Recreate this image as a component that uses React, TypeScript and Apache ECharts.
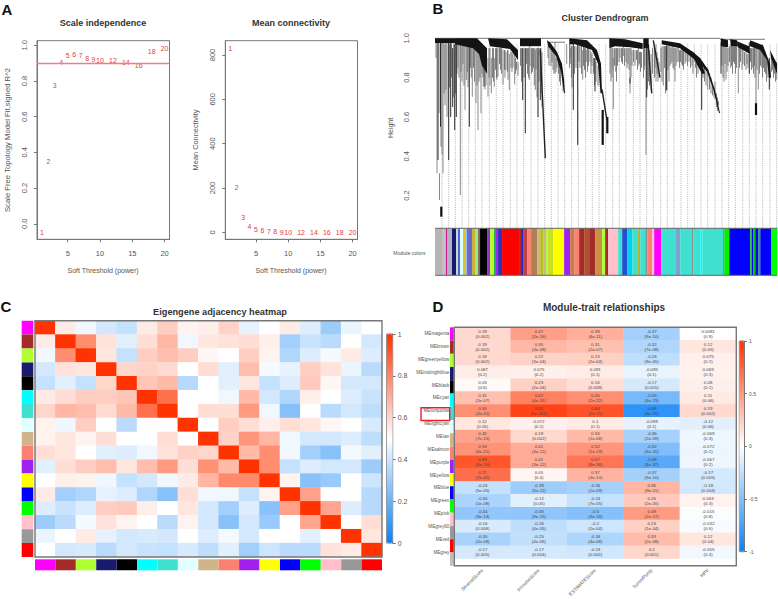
import React, { useEffect, useRef } from "react";
import * as echarts from "echarts";

const FONT = "Liberation Sans";
const GREY_TEXT = "#555";
const BOX = "#777";
const RED_PT = "#e23b3b";

// ---------- Panel A
const powers = [1, 2, 3, 4, 5, 6, 7, 8, 9, 10, 12, 14, 16, 18, 20];
const scaleFit = [-0.048, 0.35, 0.773, 0.906, 0.943, 0.95, 0.942, 0.925, 0.923, 0.914, 0.914, 0.905, 0.888, 0.968, 0.983];
const meanConn = [830, 203, 66, 25, 13, 6, 4, 2, 1, 1, 1, 1, 1, 1, 1];
const fitTicks = [0, 0.2, 0.4, 0.6, 0.8, 1.0];
const connTicks = [0, 200, 400, 600, 800];
const powerTicks = [5, 10, 15, 20];
const fitCutoff = 0.9;

// ---------- Panel B (x = leaf position along the tree, y = height)
const heightTicks = [0.2, 0.4, 0.6, 0.8, 1.0];
const guideXs = [7, 13.7, 20.3, 27, 33.7, 40.3, 47, 54.3, 61.3, 68, 75.3, 82, 88.7, 96, 103, 109.7, 116.3, 123, 129.7, 136.7, 143.3, 150.7, 157.3, 164, 170.7, 177.7, 184.3, 191, 198.3, 205, 211.7, 218.3, 225.7, 232.3, 239, 246, 252.7, 259.3, 266, 272.7, 280, 287, 293.7, 300.3, 307.7, 314.3, 321, 327.7, 335, 341.7];
const greySpikes = [
  [2, 0.98, 0.314], [4.5, 0.314, 0.178], [7, 0.98, 0.41], [8, 0.98, 0.314], [11, 0.98, 0.737], [23, 0.98, 0.847], [25.3, 0.98, 0.203], [27, 0.96, 0.78], [30, 0.96, 0.636], [31.3, 0.96, 0.788], [37.3, 0.98, 0.703], [41, 0.97, 0.67], [43, 0.97, 0.534], [46, 0.96, 0.619], [53, 0.9, 0.703], [56.3, 0.9, 0.72], [59.3, 0.9, 0.754], [63, 0.95, 0.805], [68, 0.94, 0.765], [71, 0.93, 0.839], [74.3, 0.92, 0.737], [79.7, 0.92, 0.765], [94.3, 0.96, 0.788], [100.3, 0.94, 0.737],
  [120, 0.98, 0.82], [131.7, 0.97, 0.87], [135.7, 0.95, 0.87], [147.7, 0.94, 0.79], [151.7, 0.94, 0.88], [178, 0.95, 0.84], [178.3, 0.9, 0.64], [180.7, 0.95, 0.83], [188.3, 0.96, 0.91], [195, 0.95, 0.72], [203.3, 0.95, 0.86], [211, 0.97, 0.407], [209.3, 0.98, 0.84], [221, 0.97, 0.78],
  [228.3, 0.96, 0.76], [231.7, 0.97, 0.74], [236, 0.95, 0.87], [240, 0.95, 0.78], [243.3, 0.95, 0.88], [246.7, 0.95, 0.87], [250, 0.94, 0.87], [259.3, 0.93, 0.88], [272.7, 0.85, 0.74], [280, 0.78, 0.69], [291, 0.97, 0.79], [295.7, 0.97, 0.85], [303.3, 0.97, 0.72], [317.7, 0.95, 0.85], [321, 0.97, 0.61], [323.3, 0.95, 0.74], [326.7, 0.95, 0.85], [341.7, 0.88, 0.79],
];
const fringeSpikes = [
  [1, 0.97, 0.9], [4, 0.97, 0.62], [6, 0.97, 0.45], [9, 0.97, 0.72], [10, 0.97, 0.66], [12, 0.97, 0.6], [14.5, 0.97, 0.75], [16.5, 0.97, 0.8], [18.7, 0.97, 0.7], [20.5, 0.97, 0.72], [22, 0.97, 0.82],
  [24, 0.97, 0.8], [26, 0.97, 0.83], [28, 0.97, 0.87], [29, 0.97, 0.76], [32.3, 0.97, 0.83], [33, 0.97, 0.75], [35.5, 0.97, 0.85], [36.3, 0.97, 0.8], [38.5, 0.95, 0.85], [39.5, 0.95, 0.78], [42, 0.95, 0.76], [44, 0.93, 0.78], [45, 0.92, 0.8], [47, 0.9, 0.82], [48, 0.88, 0.8], [50, 0.88, 0.74], [51, 0.85, 0.76],
  [54, 0.95, 0.8], [55, 0.95, 0.76], [57.5, 0.95, 0.8], [58.5, 0.95, 0.78], [60.5, 0.95, 0.84], [61.5, 0.95, 0.8], [62, 0.95, 0.79], [64.5, 0.95, 0.87], [65.5, 0.95, 0.84], [66.5, 0.95, 0.82], [69.5, 0.94, 0.84], [70, 0.94, 0.8], [72.5, 0.94, 0.83], [73, 0.94, 0.79], [76, 0.93, 0.85], [77, 0.93, 0.83], [78, 0.92, 0.85], [80.5, 0.9, 0.82], [81.5, 0.88, 0.84], [83, 0.88, 0.81],
  [85.5, 0.95, 0.86], [86.5, 0.95, 0.78], [89, 0.95, 0.8], [91.5, 0.95, 0.87], [92.5, 0.95, 0.82], [93.5, 0.95, 0.8], [95, 0.95, 0.86], [96.5, 0.95, 0.82], [97.5, 0.95, 0.83], [98.5, 0.95, 0.85], [99.3, 0.95, 0.76], [101, 0.95, 0.84], [102, 0.95, 0.7], [104, 0.95, 0.78], [106, 0.95, 0.72], [107, 0.93, 0.65],
  [113, 0.96, 0.9], [114, 0.96, 0.86], [116, 0.95, 0.86], [117, 0.95, 0.88], [118, 0.94, 0.84], [119, 0.93, 0.82], [121, 0.9, 0.83], [122, 0.9, 0.85], [123.5, 0.88, 0.82], [124.5, 0.87, 0.78], [125.5, 0.85, 0.76], [128, 0.8, 0.73],
  [134.5, 0.97, 0.85], [135, 0.97, 0.9], [136.5, 0.96, 0.8], [137, 0.96, 0.75], [139.5, 0.96, 0.82], [141, 0.96, 0.85], [144, 0.96, 0.88], [145, 0.96, 0.85], [146.5, 0.96, 0.82], [148.5, 0.96, 0.86], [149.5, 0.95, 0.84], [150.5, 0.95, 0.8], [152.5, 0.95, 0.83], [153.5, 0.95, 0.86], [155, 0.94, 0.88], [156, 0.93, 0.82], [157, 0.92, 0.86], [158.5, 0.9, 0.82], [159.5, 0.9, 0.76], [161, 0.88, 0.78], [163, 0.86, 0.76],
  [175, 0.95, 0.82], [176, 0.95, 0.78], [177, 0.95, 0.8], [179.5, 0.95, 0.86], [181.5, 0.95, 0.78], [182.5, 0.95, 0.86], [184, 0.95, 0.88], [185, 0.95, 0.9], [186.5, 0.95, 0.88], [187.5, 0.95, 0.87], [189.5, 0.95, 0.86], [191, 0.95, 0.88], [192, 0.95, 0.85], [193, 0.95, 0.87], [194, 0.95, 0.84], [196, 0.95, 0.8], [197, 0.94, 0.86], [198.5, 0.94, 0.88], [200, 0.94, 0.86], [201.5, 0.94, 0.89], [202.5, 0.94, 0.84], [204.5, 0.93, 0.87], [205.5, 0.93, 0.83], [206.5, 0.93, 0.85],
  [208.5, 0.95, 0.8], [209.8, 0.95, 0.86], [212.5, 0.95, 0.74], [213.5, 0.95, 0.78], [214.5, 0.94, 0.76], [216, 0.92, 0.74], [217.5, 0.95, 0.82], [219.5, 0.95, 0.8], [220, 0.95, 0.85], [222, 0.93, 0.82], [223, 0.9, 0.78], [224, 0.88, 0.8], [226, 0.95, 0.83], [227, 0.96, 0.78], [229.5, 0.96, 0.85], [230.5, 0.96, 0.72], [233, 0.96, 0.84], [234, 0.96, 0.78], [235, 0.96, 0.86],
  [237, 0.96, 0.88], [238, 0.96, 0.85], [239, 0.95, 0.84], [241, 0.95, 0.86], [242, 0.95, 0.88], [244.5, 0.94, 0.85], [245.5, 0.94, 0.88], [247.5, 0.94, 0.86], [248.5, 0.94, 0.84], [251, 0.93, 0.88], [252.5, 0.93, 0.86], [254, 0.92, 0.88], [255.5, 0.91, 0.85], [257, 0.91, 0.86], [258, 0.9, 0.82], [260.5, 0.88, 0.85], [261.5, 0.88, 0.8], [263, 0.88, 0.82], [268, 0.87, 0.8], [269.5, 0.85, 0.78], [271, 0.84, 0.76], [274.5, 0.82, 0.74], [276, 0.8, 0.72], [277.5, 0.77, 0.71], [279, 0.75, 0.7], [281.5, 0.72, 0.65], [282.5, 0.7, 0.63], [283.5, 0.68, 0.66],
  [287, 0.96, 0.86], [288, 0.96, 0.8], [289, 0.96, 0.78], [290, 0.96, 0.87], [292, 0.95, 0.83], [293, 0.95, 0.86], [294.5, 0.96, 0.88], [296.5, 0.96, 0.86], [297.5, 0.96, 0.82], [298.5, 0.96, 0.88], [299.5, 0.96, 0.87], [300.5, 0.96, 0.82], [301.5, 0.96, 0.85], [304.5, 0.95, 0.85], [305.5, 0.95, 0.88], [307, 0.95, 0.84], [308, 0.94, 0.87], [309.5, 0.93, 0.86], [311, 0.93, 0.84], [312, 0.92, 0.87], [313, 0.92, 0.85], [315.5, 0.95, 0.88], [316.5, 0.95, 0.84], [318.5, 0.95, 0.82], [319.5, 0.95, 0.86], [320, 0.95, 0.8], [322, 0.95, 0.84], [324.5, 0.94, 0.82], [325.5, 0.94, 0.86], [327.5, 0.93, 0.8], [328.5, 0.92, 0.85], [329.5, 0.92, 0.83], [330.5, 0.9, 0.82], [331.5, 0.9, 0.78], [333, 0.88, 0.8], [336.5, 0.9, 0.83], [337.5, 0.88, 0.84], [338.5, 0.88, 0.8], [339.5, 0.86, 0.82], [340.5, 0.86, 0.78],
];
const darkSpikes = [
  [3, 0.98, 0.381], [5.5, 0.98, 0.55], [13.7, 0.98, 0.381], [15.7, 0.98, 0.6], [17.7, 0.95, 0.65], [19.7, 0.97, 0.534], [21.3, 0.97, 0.6], [34.3, 0.96, 0.55], [49, 0.9, 0.754], [87.7, 0.95, 0.686], [90.3, 0.95, 0.517], [103, 0.95, 0.6], [105.3, 0.95, 0.686],
  [138.3, 0.98, 0.636], [142.7, 0.97, 0.458], [160, 0.9, 0.73], [195, 0.8, 0.77], [211.7, 0.98, 0.7], [231.7, 0.96, 0.735], [266.7, 0.87, 0.636], [286, 0.98, 0.82], [314.3, 0.98, 0.82], [334.3, 0.9, 0.74],
];
const thickSpikes = [
  [6.3, 0.144, 0.093], [167.7, 0.636, 0.458], [172.3, 0.6, 0.517], [321, 0.67, 0.61],
];
const slantBranches = [
  [105.3, 0.94, 110.3, 0.39], [167, 0.74, 172, 0.58], [213.3, 0.97, 216.7, 0.72], [218.3, 0.99, 225, 0.8],
];
const treeRoofs = [
  [0, 1, 285, 1], [285, 0.995, 330, 0.995], [115, 0.98, 130, 0.98],
];
const blackBands = [
  [[0, 1], [20, 1], [20, 0.975], [0, 0.975]],
  [[20, 1], [42, 1], [52, 0.95], [52, 0.82], [47, 0.86], [44, 0.92], [38, 0.95], [20, 0.97]],
  [[53, 1], [72, 0.995], [83, 0.94], [83, 0.89], [75, 0.945], [55, 0.96]],
  [[85, 1], [106, 1], [106, 0.96], [85, 0.96]],
  [[112, 0.99], [115, 0.98], [122, 0.93], [127, 0.87], [129, 0.79], [130, 0.72], [129, 0.72], [126, 0.83], [121, 0.91], [113, 0.96]],
  [[134.3, 1], [152, 0.99], [162, 0.94], [166, 0.87], [167, 0.72], [165.5, 0.72], [163, 0.87], [157, 0.94], [140, 0.97], [134.3, 0.97]],
  [[174.3, 1], [190, 0.995], [207.7, 0.975], [207.7, 0.945], [195, 0.955], [180, 0.96], [174.3, 0.95]],
  [[208.3, 1], [213.7, 1], [213.7, 0.95], [208.3, 0.95]],
  [[226.7, 0.99], [245, 0.975], [258, 0.93], [265, 0.9], [270, 0.82], [267, 0.82], [259, 0.895], [245, 0.95], [226.7, 0.97]],
  [[265, 0.9], [273.3, 0.84], [280, 0.737], [285, 0.62], [284, 0.62], [278.5, 0.737], [272, 0.83], [264, 0.88]],
  [[285.7, 1], [293, 0.99], [293, 0.955], [286, 0.96]],
  [[295, 0.995], [302, 0.99], [303, 0.96], [296, 0.96]],
  [[302, 0.985], [314, 0.96], [315, 0.92], [303, 0.955]],
  [[315, 0.99], [328, 0.965], [335, 0.87], [336, 0.8], [334, 0.8], [332, 0.89], [325, 0.94], [315, 0.96]],
  [[335, 0.94], [342, 0.87], [342, 0.82], [336, 0.9]],
];
const moduleStripColours = [
  "#b5b5b5", "#c0c0c0", "#c71585", "#b0b0c8", "#191970", "#d3d3d3", "#4169e1", "#e0ffff", "#e6c229", "#99bbff", "#6a6ac8", "#c9b037", "#90ee90", "#8b6a4a", "#000000", "#9b30c8", "#adff2f", "#22aa44", "#a020f0", "#3030c0",
  "#ff0000", "#a52a2a", "#2020d0", "#c04040", "#fa8072", "#b08050", "#d2b48c", "#b8c020", "#d2b48c", "#adff2f", "#c8e020", "#ffff00", "#a020f0", "#c08050", "#fa8072", "#a52a2a", "#b05030", "#a52a2a", "#c89040", "#adff2f", "#a52a2a",
  "#ffc0cb", "#40e0d0", "#2050d0", "#00d0f0", "#40e0d0", "#c0b030", "#40e0d0", "#909090", "#fa8072", "#ffc0cb", "#ff00ff", "#40e0d0", "#80a0d0", "#40e0d0", "#707070", "#40e0d0", "#00ffff", "#40e0d0", "#707070", "#00ee00", "#0000ff", "#00cc00", "#0000ff", "#00cc00", "#0000ff", "#00cc00", "#0000ff", "#00ff00",
];
const moduleStripEnds = [
  7, 11, 12, 17, 21, 23, 25, 28, 30, 32, 37, 40, 43, 45, 52, 55, 59, 61, 63, 67,
  84, 86, 88, 92, 96, 102, 105, 108, 111, 113, 118, 129, 135, 139, 144, 149, 154, 160, 167, 170, 173,
  183, 187, 192, 197, 202, 205, 210, 212, 217, 219, 226, 240, 245, 257, 258, 265, 267, 288, 289, 294, 315, 316.7, 318.3, 320, 323.3, 325, 335.7, 342,
];

// ---------- Panel C
const moduleColours = ["#ff00ff", "#a52a2a", "#adff2f", "#191970", "#000000", "#00ffff", "#40e0d0", "#e0ffff", "#d2b48c", "#fa8072", "#a020f0", "#ffff00", "#0000ff", "#00ff00", "#ffc0cb", "#999999", "#ff0000"];
const adjacencyRows = [
  [1, 0.55, 0.47, 0.41, 0.38, 0.55, 0.62, 0.53, 0.54, 0.61, 0.45, 0.5, 0.55, 0.43, 0.3, 0.46, 0.5],
  [0.55, 1, 0.78, 0.57, 0.44, 0.58, 0.68, 0.47, 0.56, 0.57, 0.58, 0.54, 0.31, 0.39, 0.36, 0.5, 0.41],
  [0.47, 0.78, 1, 0.56, 0.38, 0.62, 0.66, 0.62, 0.52, 0.5, 0.62, 0.53, 0.34, 0.43, 0.48, 0.55, 0.43],
  [0.41, 0.57, 0.56, 1, 0.6, 0.61, 0.59, 0.5, 0.58, 0.44, 0.66, 0.48, 0.45, 0.62, 0.57, 0.46, 0.36],
  [0.38, 0.44, 0.38, 0.6, 1, 0.64, 0.67, 0.35, 0.5, 0.44, 0.56, 0.38, 0.43, 0.63, 0.52, 0.41, 0.41],
  [0.55, 0.58, 0.62, 0.62, 0.64, 1, 0.85, 0.5, 0.5, 0.47, 0.67, 0.41, 0.34, 0.54, 0.5, 0.43, 0.39],
  [0.6, 0.68, 0.66, 0.59, 0.67, 0.85, 1, 0.5, 0.58, 0.58, 0.75, 0.47, 0.25, 0.5, 0.36, 0.41, 0.37],
  [0.53, 0.47, 0.62, 0.5, 0.36, 0.5, 0.5, 1, 0.5, 0.62, 0.58, 0.54, 0.58, 0.56, 0.52, 0.5, 0.42],
  [0.53, 0.56, 0.53, 0.58, 0.5, 0.5, 0.58, 0.5, 1, 0.61, 0.76, 0.68, 0.47, 0.41, 0.41, 0.43, 0.37],
  [0.58, 0.56, 0.5, 0.44, 0.43, 0.47, 0.57, 0.61, 0.6, 1, 0.67, 0.78, 0.47, 0.31, 0.26, 0.48, 0.44],
  [0.44, 0.58, 0.62, 0.66, 0.56, 0.66, 0.75, 0.58, 0.77, 0.67, 1, 0.78, 0.38, 0.43, 0.41, 0.41, 0.3],
  [0.5, 0.54, 0.53, 0.47, 0.38, 0.41, 0.47, 0.55, 0.68, 0.79, 0.79, 1, 0.53, 0.26, 0.29, 0.5, 0.4],
  [0.55, 0.31, 0.34, 0.45, 0.43, 0.34, 0.26, 0.58, 0.47, 0.47, 0.38, 0.53, 1, 0.73, 0.5, 0.5, 0.35],
  [0.43, 0.39, 0.43, 0.62, 0.63, 0.54, 0.5, 0.56, 0.41, 0.31, 0.43, 0.26, 0.73, 1, 0.72, 0.43, 0.35],
  [0.3, 0.36, 0.48, 0.57, 0.53, 0.5, 0.36, 0.53, 0.41, 0.26, 0.41, 0.29, 0.5, 0.72, 1, 0.5, 0.58],
  [0.46, 0.5, 0.55, 0.45, 0.41, 0.42, 0.41, 0.5, 0.43, 0.48, 0.41, 0.5, 0.5, 0.44, 0.5, 1, 0.56],
  [0.5, 0.41, 0.42, 0.36, 0.41, 0.39, 0.38, 0.42, 0.37, 0.44, 0.31, 0.4, 0.36, 0.36, 0.57, 0.55, 1],
];
const adjTicks = [0, 0.2, 0.4, 0.6, 0.8, 1];

// ---------- Panel D
const traitNames = ["StromalScore", "ImmuneScore", "ESTIMATEScore", "TumorPurity", "HPV"];
const moduleEigengenes = ["MEmagenta", "MEbrown", "MEgreenyellow", "MEmidnightblue", "MEblack", "MEcyan", "MEturquoise", "MElightcyan", "MEtan", "MEsalmon", "MEpurple", "MEyellow", "MEblue", "MEgreen", "MEpink", "MEgrey60", "MEred", "MEgrey"];
const eigengeneColours = ["#ff00ff", "#a52a2a", "#adff2f", "#191970", "#000000", "#00ffff", "#40e0d0", "#e0ffff", "#d2b48c", "#fa8072", "#a020f0", "#ffff00", "#0000ff", "#00ff00", "#ffc0cb", "#999999", "#ff0000", "#bebebe"];
const traitCorr = [
  [0.19, 0.47, 0.39, -0.37, 0.0081],
  [0.19, 0.35, 0.31, -0.32, 0.12],
  [0.19, 0.22, 0.23, -0.26, 0.075],
  [0.087, 0.075, 0.091, -0.095, 0.069],
  [0.03, 0.23, 0.16, -0.17, 0.08],
  [0.31, 0.62, 0.55, -0.55, 0.11],
  [0.55, 0.91, 0.84, -0.85, 0.19],
  [0.12, 0.072, 0.1, -0.099, -0.12],
  [0.45, 0.19, 0.34, -0.36, -0.069],
  [0.53, 0.41, 0.52, -0.52, -0.072],
  [0.83, 0.41, 0.67, -0.68, -0.067],
  [0.71, 0.05, 0.37, -0.37, -0.17],
  [-0.24, -0.39, -0.36, 0.36, -0.18],
  [-0.34, -0.12, -0.24, 0.26, 0.063],
  [-0.44, -0.45, -0.5, 0.49, -0.015],
  [-0.16, -0.26, -0.2, 0.23, -0.032],
  [-0.35, -0.25, -0.33, 0.33, 0.12],
  [-0.17, -0.17, -0.19, 0.2, -0.055],
];
const traitPval = [
  ["0.002", "2e-16", "4e-11", "5e-10", "0.9"],
  ["0.002", "3e-09", "2e-07", "7e-08", "0.05"],
  ["0.002", "3e-04", "2e-04", "9e-05", "0.2"],
  ["0.2", "0.2", "0.1", "0.1", "0.3"],
  ["0.6", "2e-04", "0.009", "0.005", "0.2"],
  ["2e-07", "4e-31", "2e-22", "4e-23", "0.06"],
  ["2e-22", "1e-101", "2e-71", "3e-75", "0.002"],
  ["0.05", "0.2", "0.1", "0.1", "0.06"],
  ["7e-15", "0.002", "1e-08", "2e-09", "0.3"],
  ["4e-21", "3e-12", "1e-19", "5e-20", "0.2"],
  ["4e-70", "3e-12", "8e-36", "4e-37", "0.2"],
  ["7e-42", "0.4", "3e-10", "5e-10", "0.005"],
  ["5e-05", "5e-11", "1e-09", "9e-11", "0.004"],
  ["1e-08", "0.05", "7e-05", "2e-05", "0.3"],
  ["3e-14", "9e-15", "3e-18", "2e-17", "0.8"],
  ["0.008", "4e-05", "1e-04", "1e-04", "0.6"],
  ["2e-09", "4e-05", "4e-08", "2e-08", "0.04"],
  ["0.005", "0.004", "0.002", "0.001", "0.4"],
];
const corrTicks = [-1, -0.5, 0, 0.5, 1];
const HEAT = ["#0a80f5", "#ffffff", "#ff3300"];

function buildOption() {
  const grid: any[] = [];
  const xAxis: any[] = [];
  const yAxis: any[] = [];
  const series: any[] = [];
  const hidden = { show: false };
  const lineOf = (color = BOX) => ({ show: true, onZero: false, lineStyle: { color, width: 1 } });
  const fixed1 = (v: number) => v.toFixed(1);

  const valAxis = (extra: any, ticks: number[], rotate = 0, fontSize = 7, margin = 6, formatter: any = (v: number) => String(v)) => ({
    type: "value",
    splitLine: hidden,
    scale: false,
    axisLine: lineOf(),
    axisTick: { show: true, length: 3, lineStyle: { color: BOX }, customValues: ticks },
    axisLabel: { show: true, customValues: ticks, rotate, fontSize, fontFamily: FONT, color: GREY_TEXT, margin, formatter },
    ...extra,
  });

  const addGrid = (box: number[], x: any, y: any, border = false) => {
    grid.push({ left: box[0], top: box[1], width: box[2] - box[0], height: box[3] - box[1], show: border, borderColor: BOX, borderWidth: 1, backgroundColor: "transparent", containLabel: false });
    const i = grid.length - 1;
    xAxis.push({ gridIndex: i, ...x });
    yAxis.push({ gridIndex: i, ...y });
    return i;
  };

  const pointLabels = (gi: number, ys: number[]) => ({
    type: "custom",
    xAxisIndex: gi,
    yAxisIndex: gi,
    silent: true,
    data: powers.map((p, i) => [p, ys[i]]),
    renderItem: (_: any, api: any) => {
      const c = api.coord([api.value(0), api.value(1)]);
      return { type: "text", style: { text: String(api.value(0)), x: c[0], y: c[1], fill: RED_PT, fontSize: 7, fontFamily: FONT, align: "center", verticalAlign: "middle" } };
    },
  });

  // A1
  const a1 = addGrid([37, 40.7, 169.5, 239.3], valAxis({ min: 0.24, max: 20.76 }, powerTicks, 0, 7.5, 10), valAxis({ min: -0.087, max: 1.026 }, fitTicks, 90, 7.5, 9, fixed1), true);
  series.push({
    ...pointLabels(a1, scaleFit),
    markLine: { silent: true, symbol: "none", label: { show: false }, lineStyle: { color: "#ee7f7f", width: 1.3, type: "solid" }, data: [{ yAxis: fitCutoff }] },
  });
  // A2
  const a2 = addGrid([225.3, 40.7, 357.5, 239.3], valAxis({ min: 0.24, max: 20.76 }, powerTicks, 0, 7.5, 10), valAxis({ min: -31.6, max: 864.6 }, connTicks, 90, 7.5, 9), true);
  series.push(pointLabels(a2, meanConn));

  // B dendrogram
  const b = addGrid([435, 38.3, 777, 228.3], { type: "value", min: 0, max: 342, show: false, splitLine: hidden },
    { type: "value", min: 0.034, max: 1, splitLine: hidden, axisLine: hidden, axisTick: { show: true, length: 0, customValues: heightTicks, lineStyle: { color: "#fff" } }, axisLabel: { show: true, customValues: heightTicks, rotate: 90, fontSize: 7.5, fontFamily: FONT, color: GREY_TEXT, margin: 25, formatter: fixed1 } });
  const segSeries = (data: number[][], stroke: string, lineWidth: number, dash?: number[]) => ({
    type: "custom",
    xAxisIndex: b,
    yAxisIndex: b,
    silent: true,
    clip: false,
    data,
    renderItem: (_: any, api: any) => {
      const p = api.coord([api.value(0), api.value(1)]);
      const q = api.coord([api.value(2), api.value(3)]);
      return { type: "line", shape: { x1: p[0], y1: p[1], x2: q[0], y2: q[1] }, style: { stroke, lineWidth, lineDash: dash, fill: null } };
    },
  });
  const vert = (rows: number[][]) => rows.map((r) => [r[0], r[1], r[0], r[2]]);
  series.push(segSeries(guideXs.map((x) => [x, 0.97, x, 0.034]), "#a8a8a8", 0.9, [1, 1.2]));
  series.push(segSeries(vert(greySpikes), "#8a8a8a", 1));
  series.push(segSeries(vert(fringeSpikes), "#6a6a6a", 0.85));
  series.push(segSeries(vert(darkSpikes), "#2a2a2a", 1));
  series.push(segSeries(vert(thickSpikes), "#111", 2.2));
  series.push(segSeries(slantBranches, "#222", 1.4));
  series.push(segSeries(treeRoofs, "#777", 1));
  series.push({
    type: "custom",
    xAxisIndex: b,
    yAxisIndex: b,
    silent: true,
    clip: false,
    data: blackBands.map((_, i) => [i, i]),
    renderItem: (params: any, api: any) => ({
      type: "polygon",
      shape: { points: blackBands[params.dataIndex].map((pt) => api.coord(pt)) },
      style: { fill: "#141414" },
    }),
  });

  const stripAxisX = (max: number) => ({ type: "value", min: 0, max, show: false, splitLine: hidden });
  const hStrip = (box: number[], colours: string[], ends: number[], max: number) => {
    const gi = addGrid(box, stripAxisX(max), { type: "value", min: 0, max: 1, show: false, splitLine: hidden });
    series.push({
      type: "custom", xAxisIndex: gi, yAxisIndex: gi, silent: true,
      data: ends.map((e, i) => [i === 0 ? 0 : ends[i - 1], e]),
      renderItem: (params: any, api: any) => {
        const p = api.coord([api.value(0), 1]);
        const q = api.coord([api.value(1), 0]);
        return { type: "rect", shape: { x: p[0], y: p[1], width: q[0] - p[0], height: q[1] - p[1] }, style: { fill: colours[params.dataIndex] } };
      },
    });
  };
  const vStrip = (box: number[], colours: string[]) => {
    const gi = addGrid(box, { type: "value", min: 0, max: 1, show: false, splitLine: hidden }, { type: "value", min: 0, max: colours.length, inverse: true, show: false, splitLine: hidden });
    series.push({
      type: "custom", xAxisIndex: gi, yAxisIndex: gi, silent: true,
      data: colours.map((_, i) => [i, i + 1]),
      renderItem: (params: any, api: any) => {
        const p = api.coord([0, api.value(0)]);
        const q = api.coord([1, api.value(1)]);
        return { type: "rect", shape: { x: p[0], y: p[1], width: q[0] - p[0], height: q[1] - p[1] }, style: { fill: colours[params.dataIndex] } };
      },
    });
  };
  hStrip([435, 228.3, 777.3, 275.3], moduleStripColours, moduleStripEnds, 342);

  // C heatmap
  const idx = moduleColours.map((_, i) => String(i));
  const c = addGrid([35, 320.7, 382, 557], { type: "category", data: idx, show: false }, { type: "category", data: idx, inverse: true, show: false });
  const cSeries = series.length;
  series.push({
    type: "heatmap", xAxisIndex: c, yAxisIndex: c, silent: true,
    data: adjacencyRows.flatMap((row, r) => row.map((v, k) => [k, r, v])),
  });
  vStrip([21.7, 320.7, 33.3, 557], moduleColours);
  hStrip([35, 559.3, 382, 570.3], moduleColours, moduleColours.map((_, i) => i + 1), moduleColours.length);
  addGrid([386.7, 334, 392.7, 543], { type: "value", min: 0, max: 1, show: false, splitLine: hidden },
    { ...valAxis({ min: 0, max: 1, position: "right" }, adjTicks, 0, 7, 5) }, true);

  // D heatmap
  const d = addGrid([454.3, 327.3, 736.3, 565.7],
    { type: "category", data: traitNames, axisLine: hidden, axisTick: hidden, axisLabel: { show: true, interval: 0, rotate: 45, fontSize: 4.8, fontFamily: FONT, color: GREY_TEXT, margin: 11 } },
    { type: "category", data: moduleEigengenes, inverse: true, axisLine: hidden, axisTick: hidden, axisLabel: { show: true, interval: 0, fontSize: 4.6, fontFamily: FONT, color: GREY_TEXT, margin: 5 } });
  const dSeries = series.length;
  series.push({
    type: "heatmap", xAxisIndex: d, yAxisIndex: d, silent: true,
    data: traitCorr.flatMap((row, r) => row.map((v, k) => [k, r, v])),
    label: {
      show: true, fontSize: 4.4, lineHeight: 5, fontFamily: FONT, color: "#444",
      formatter: (p: any) => `${p.value[2]}\n(${traitPval[p.value[1]][p.value[0]]})`,
    },
  });
  vStrip([450, 327.3, 453.8, 565.7], eigengeneColours);
  addGrid([739.3, 341, 744, 551.7], { type: "value", min: 0, max: 1, show: false, splitLine: hidden },
    { ...valAxis({ min: -1, max: 1, position: "right" }, corrTicks, 0, 5, 5) }, true);

  const heatVM = (seriesIndex: number, min: number, max: number, left: number, top: number, w: number, h: number) => ({
    type: "continuous", seriesIndex, min, max, left, top, itemWidth: w, itemHeight: h, padding: 0, calculable: false, text: undefined, inRange: { color: HEAT }, showLabel: false, textStyle: { fontSize: 1, color: "transparent" },
  });

  const text = (t: string, x: number, y: number, size: number, bold = true, extra: any = {}) => ({
    type: "text", x, y, rotation: extra.rotation ?? 0, silent: true,
    style: { text: t, fontFamily: FONT, fontSize: size, fontWeight: bold ? "bold" : "normal", fill: extra.fill ?? "#333", align: "center", verticalAlign: "middle" },
  });
  const frame = (box: number[], stroke: string, lineWidth: number) => ({
    type: "rect", silent: true, z: 50,
    shape: { x: box[0], y: box[1], width: box[2] - box[0], height: box[3] - box[1] },
    style: { fill: "none", stroke, lineWidth },
  });
  const vLabel = { rotation: Math.PI / 2, fill: GREY_TEXT };
  const graphic = [
    text("A", 7, 9, 15, true, { fill: "#111" }),
    text("B", 438, 8, 15, true, { fill: "#111" }),
    text("C", 6, 306, 15, true, { fill: "#111" }),
    text("D", 438, 306, 15, true, { fill: "#111" }),
    text("Scale independence", 103, 22.5, 9),
    text("Mean connectivity", 291, 22.5, 9),
    text("Cluster Dendrogram", 605, 18, 9),
    text("Eigengene adjacency heatmap", 220, 312, 9.2),
    text("Module-trait relationships", 604, 307, 10),
    text("Soft Threshold (power)", 103, 270, 7, false, { fill: GREY_TEXT }),
    text("Soft Threshold (power)", 291, 270, 7, false, { fill: GREY_TEXT }),
    text("Scale Free Topology Model Fit,signed R^2", 7, 140, 7.7, false, vLabel),
    text("Mean Connectivity", 195, 140, 7.4, false, vLabel),
    text("Height", 390, 128, 7, false, vLabel),
    text("Module colors", 409.5, 252.5, 5.2, false, { fill: GREY_TEXT }),
    frame([35, 320.7, 382, 557], BOX, 1.4),
    frame([454.3, 327.3, 736.3, 565.7], BOX, 1.4),
    frame([421, 407.7, 449.7, 420.5], "#ee1c25", 1.4),
    { type: "line", silent: true, z: 50, shape: { x1: 435, y1: 275.3, x2: 777.3, y2: 275.3 }, style: { stroke: "#666", lineWidth: 1 } },
    { type: "line", silent: true, z: 50, shape: { x1: 435, y1: 228.3, x2: 777.3, y2: 228.3 }, style: { stroke: "#666", lineWidth: 1 } },
  ];

  return {
    animation: false,
    backgroundColor: "#fff",
    textStyle: { fontFamily: FONT },
    grid,
    xAxis,
    yAxis,
    series,
    graphic,
    visualMap: [heatVM(cSeries, 0, 1, 386.7, 334, 6, 209), heatVM(dSeries, -1, 1, 739.3, 341, 4.7, 210.7)],
  };
}

export default function App() {
  const ref = useRef<HTMLDivElement>(null);
  useEffect(() => {
    const chart = echarts.init(ref.current!, undefined, { renderer: "svg" });
    chart.setOption(buildOption() as any);
    return () => chart.dispose();
  }, []);
  return <div ref={ref} style={{ position: "absolute", left: 0, top: 0, width: 778, height: 599, background: "#fff" }} />;
}
